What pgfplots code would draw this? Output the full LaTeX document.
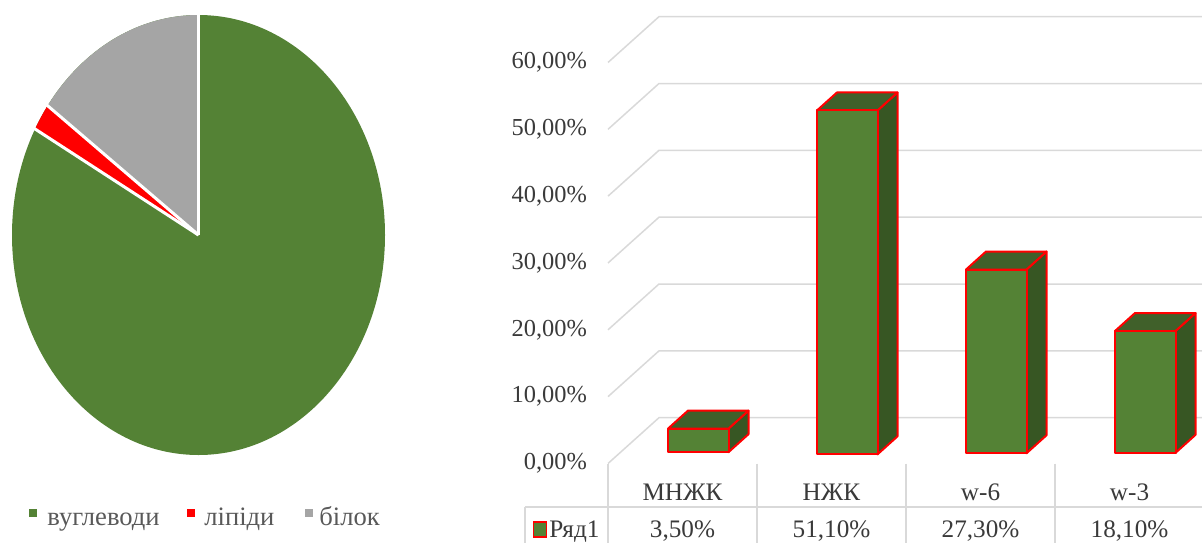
\documentclass[border=0pt]{standalone}
\usepackage{fontspec}
\setmainfont{Liberation Serif}
\usepackage{pgfplots}
\pgfplotsset{compat=1.18}
\usepackage{pgfplotstable}

\definecolor{pgreen}{HTML}{548235}
\definecolor{pred}{HTML}{FF0000}
\definecolor{pgray}{HTML}{A5A5A5}
\definecolor{bfront}{HTML}{548235}
\definecolor{btop}{HTML}{40602A}
\definecolor{bside}{HTML}{375623}
\definecolor{gridc}{HTML}{D9D9D9}
\definecolor{txt}{HTML}{3A3A3A}
\definecolor{legtxt}{HTML}{595959}

\newcommand\fs{\fontsize{12.2pt}{14pt}\selectfont}
\newcommand\fst{\fontsize{12.6pt}{14pt}\selectfont}
\newcommand\fsl{\fontsize{13.3pt}{15pt}\selectfont}

% bar data: x position (category centre), value in %
\pgfplotstableread{
x v
0.5 3.5
1.5 51.1
2.5 27.3
3.5 18.1
}\bardata

% pie data (%): вуглеводи, ліпіди, білок
\def\pA{83}
\def\pB{2}
\def\pC{15}

% pseudo-3D box mark, anchored at (category centre, value) on the front plane
\pgfdeclareplotmark{box3d}{%
  \pgfmathsetlengthmacro\bh{\val*3.365pt}%
  \pgfsetlinewidth{1pt}%
  \pgfsetroundjoin
  \pgfsetstrokecolor{pred}%
  % side face
  \pgfpathmoveto{\pgfpoint{23pt}{5.75pt}}%
  \pgfpathlineto{\pgfpoint{33pt}{14.75pt}}%
  \pgfpathlineto{\pgfpoint{33pt}{14.75pt-\bh}}%
  \pgfpathlineto{\pgfpoint{23pt}{5.75pt-\bh}}%
  \pgfpathclose
  \pgfsetfillcolor{bside}%
  \pgfusepath{fill,stroke}%
  % top face
  \pgfpathmoveto{\pgfpoint{-7.25pt}{5.75pt}}%
  \pgfpathlineto{\pgfpoint{2.75pt}{14.75pt}}%
  \pgfpathlineto{\pgfpoint{33pt}{14.75pt}}%
  \pgfpathlineto{\pgfpoint{23pt}{5.75pt}}%
  \pgfpathclose
  \pgfsetfillcolor{btop}%
  \pgfusepath{fill,stroke}%
  % front face
  \pgfpathmoveto{\pgfpoint{-7.25pt}{5.75pt-\bh}}%
  \pgfpathlineto{\pgfpoint{23pt}{5.75pt-\bh}}%
  \pgfpathlineto{\pgfpoint{23pt}{5.75pt}}%
  \pgfpathlineto{\pgfpoint{-7.25pt}{5.75pt}}%
  \pgfpathclose
  \pgfsetfillcolor{bfront}%
  \pgfusepath{fill,stroke}%
}

\begin{document}%
\begin{tikzpicture}
\pgfmathsetmacro\aA{\pA*3.6}
\pgfmathsetmacro\aB{(\pA+\pB)*3.6}
\useasboundingbox (0,0) rectangle (601pt,271pt);

% ---------------- pie ----------------
\begin{axis}[
  at={(99.25pt,153.5pt)}, anchor=center,
  x=93.25pt, y=110pt,
  xmin=-1, xmax=1, ymin=-1, ymax=1,
  hide axis, clip=false,
]
  \fill[pgreen] (axis cs:0,0) ellipse [x radius=1, y radius=1];
  \begin{scope}
    \clip (axis cs:0,0) ellipse [x radius=1, y radius=1];
    \fill[pred] (axis cs:0,0) -- (axis cs:{2*sin(\aA)},{2*cos(\aA)})
      -- (axis cs:{2*sin(\aB)},{2*cos(\aB)}) -- cycle;
    \fill[pgray] (axis cs:0,0) -- (axis cs:{2*sin(\aB)},{2*cos(\aB)})
      -- (axis cs:0,2) -- cycle;
  \end{scope}
  \draw[white, line width=1.5pt] (axis cs:0,0) -- (axis cs:0,1.02);
  \draw[white, line width=1.5pt] (axis cs:0,0) -- (axis cs:{1.02*sin(\aA)},{1.02*cos(\aA)});
  \draw[white, line width=1.5pt] (axis cs:0,0) -- (axis cs:{1.02*sin(\aB)},{1.02*cos(\aB)});
\end{axis}

% pie legend
\fill[pgreen] (14.5pt,12.5pt) rectangle (18.25pt,16.75pt);
\node[anchor=base west, inner sep=0pt, text=legtxt, font=\fsl] at (23.5pt,8.5pt) {вуглеводи};
\fill[pred] (93.5pt,12.5pt) rectangle (97.25pt,16.75pt);
\node[anchor=base west, inner sep=0pt, text=legtxt, font=\fsl] at (102pt,8.5pt) {ліпіди};
\fill[pgray] (152.5pt,12.5pt) rectangle (156.25pt,16.75pt);
\node[anchor=base west, inner sep=0pt, text=legtxt, font=\fsl] at (159.5pt,8.5pt) {білок};

% ---------------- 3D bars ----------------
\begin{axis}[
  at={(304pt,39.25pt)}, anchor=south west,
  x=74.5pt, y=3.342pt,
  xmin=0, xmax=4, ymin=0, ymax=70,
  clip=false,
  axis x line=none, axis y line=left,
  y axis line style={draw=none},
  ytick={0,10,...,60},
  ytick style={draw=none},
  major tick length=0pt,
  /pgf/number format/assume math mode=true,
  yticklabel={\pgfmathprintnumber[fixed,fixed zerofill,precision=2,use comma]{\tick}\%},
  yticklabel style={font=\fs, text=txt, anchor=east, xshift=-7pt},
]
  % walls / gridlines
  \pgfplotsinvokeforeach{0,10,...,60}{
    \draw[gridc, line width=0.75pt] (axis cs:0,#1) -- (axis cs:0.342,{#1+6.85}) -- (axis cs:4.05,{#1+6.85});
  }
  % bars
  \addplot[scatter, only marks, mark=box3d,
    visualization depends on={\thisrow{v} \as \val}]
    table[x=x, y=v] {\bardata};

  % data table
  \draw[gridc, line width=0.75pt] (axis cs:-0.557,-6.51) -- (axis cs:4.05,-6.51);
  \draw[gridc, line width=0.75pt] (axis cs:-0.557,-6.51) -- (axis cs:-0.557,-13);
  \pgfplotsinvokeforeach{0,1,2,3}{
    \draw[gridc, line width=0.75pt] (axis cs:#1,0) -- (axis cs:#1,-13);
  }
  \node[anchor=base, inner sep=0pt, font=\fst, text=txt] at (axis cs:0.5,-5.46) {МНЖК};
  \node[anchor=base, inner sep=0pt, font=\fst, text=txt] at (axis cs:1.5,-5.46) {НЖК};
  \node[anchor=base, inner sep=0pt, font=\fst, text=txt] at (axis cs:2.5,-5.46) {w-6};
  \node[anchor=base, inner sep=0pt, font=\fst, text=txt] at (axis cs:3.5,-5.46) {w-3};
  \node[anchor=base, inner sep=0pt, font=\fst, text=txt] at (axis cs:0.5,-11.0) {3,50\%};
  \node[anchor=base, inner sep=0pt, font=\fst, text=txt] at (axis cs:1.5,-11.0) {51,10\%};
  \node[anchor=base, inner sep=0pt, font=\fst, text=txt] at (axis cs:2.5,-11.0) {27,30\%};
  \node[anchor=base, inner sep=0pt, font=\fst, text=txt] at (axis cs:3.5,-11.0) {18,10\%};
  % series key
  \filldraw[fill=bfront, draw=pred, line width=0.75pt] (axis cs:-0.5,-11.02) rectangle (axis cs:-0.413,-8.78);
  \node[anchor=base west, inner sep=0pt, font=\fst, text=txt] at (axis cs:-0.396,-11.0) {Ряд1};
\end{axis}
\end{tikzpicture}%
\end{document}
